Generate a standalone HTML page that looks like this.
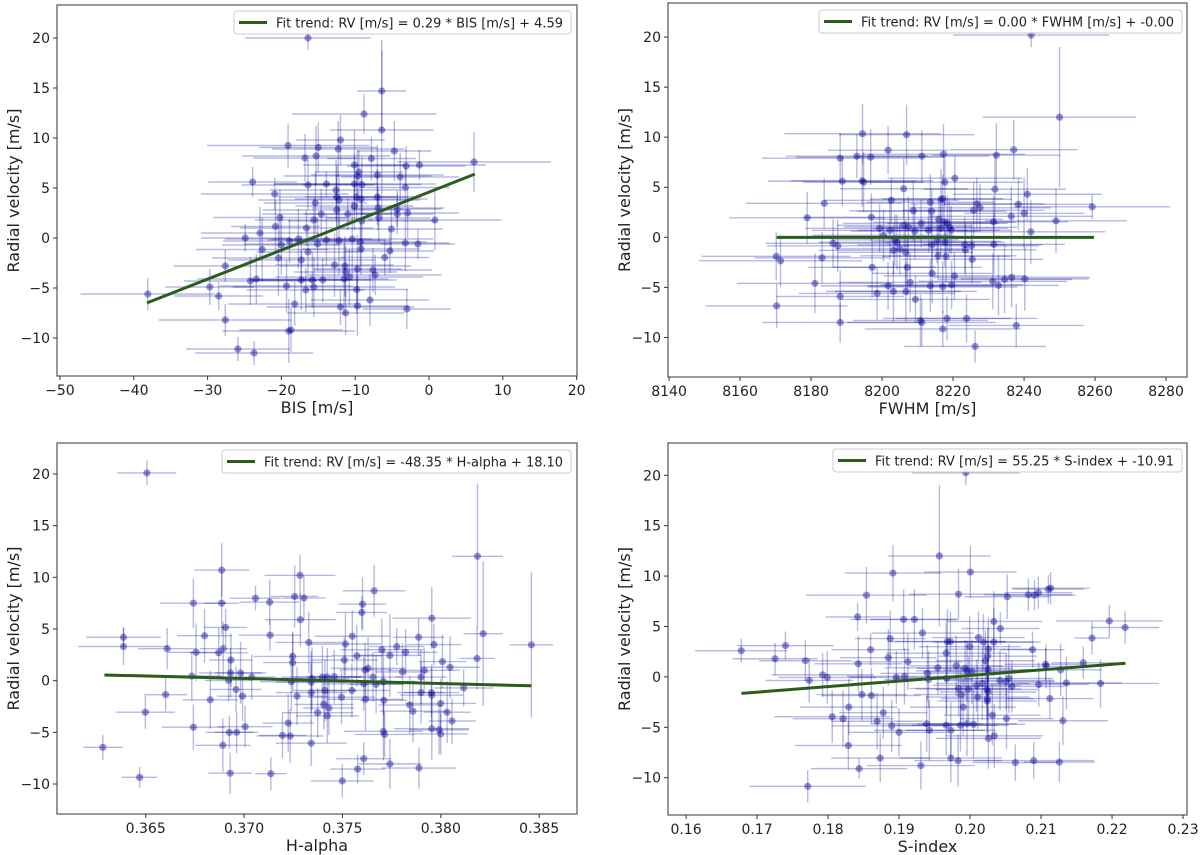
<!DOCTYPE html>
<html><head><meta charset="utf-8">
<style>
html,body{margin:0;padding:0;background:#fff;}
svg{display:block;font-family:"DejaVu Sans","Liberation Sans",sans-serif;}
</style></head>
<body>
<svg id="fig" width="1200" height="855" viewBox="0 0 1200 855" xmlns="http://www.w3.org/2000/svg"></svg>
<script>
// ---------- Panel 1: BIS ----------
const bisX = [-16.4,-6.4,-8.8,-6.4,-12.0,-19.1,-15.0,-12.3,-4.7,-16.8,-15.3,-7.8,6.1,-3.1,-1.3,-10.1,-9.5,-7.0,-3.9,-9.7,-23.9,-16.4,-13.9,-10.1,-9.1,-3.2,-12.6,-20.9,-9.8,-12.5,-7.0,-9.2,-12.2,-15.4,-10.1,-4.3,-6.9,-12.5,-2.9,-14.6,-11.0,-4.3,-20.2,-6.8,0.8,-15.6,-9.1,-20.8,-16.6,-5.1,-22.9,-24.9,-17.7,-18.9,-12.2,-13.9,-10.4,-9.3,-3.2,-1.5,-20.0,-15.1,-22.6,-16.4,-5.3,-9.2,-20.4,-6.0,-17.3,-27.6,-12.8,-11.4,-9.7,-7.6,-11.3,-7.3,-10.8,-11.5,-23.4,-24.2,-17.3,-14.4,-15.8,-19.3,-29.7,-15.6,-9.8,-16.7,-38.1,-28.5,-8.0,-18.2,-9.7,-12.0,-3.0,-11.3,-27.6,-18.7,-19.0,-25.9,-23.7];
const bisRV = [20.0,14.7,12.4,10.8,9.8,9.25,9.05,8.9,8.7,8.0,8.2,7.95,7.6,7.2,7.3,7.3,6.6,6.3,6.1,6.2,5.6,5.3,5.4,5.4,5.35,5.05,4.8,4.4,4.1,4.1,4.1,3.9,3.8,3.5,3.2,2.9,3.0,2.8,2.5,2.4,2.4,2.4,2.05,2.0,1.8,1.8,1.7,1.15,1.0,0.9,0.5,0.0,-0.1,-0.3,-0.25,-0.2,-0.1,-0.4,-0.5,-0.6,-0.7,-0.6,-1.15,-1.4,-1.3,-1.1,-2.0,-1.95,-2.2,-2.8,-2.7,-2.8,-3.1,-3.2,-3.4,-3.7,-3.9,-4.1,-4.1,-4.3,-4.2,-4.2,-4.2,-4.8,-4.9,-4.9,-5.15,-5.2,-5.6,-5.8,-6.2,-6.6,-6.8,-6.9,-7.1,-7.5,-8.2,-9.2,-9.3,-11.1,-11.5];
const bisXerr = [8.5,3.3,9.8,7,6,11,8,9,5,7,10,6,10.4,8,9,7,6,9,8,10,6,9,7,11,8,6,9,10,7,8,6,9,11,7,8,6,9,10,7,8,6,5,9,7,9,8,10,6,9,7,8,6,10,9,7,8,11,9,6,5,8,10,9,7,6,8,9,6,10,7,8,9,6,8,7,9,10,6,8,9,7,10,8,9,6,11,7,8,9.1,6,8,9,7,10,6,8,9,7,9,7,8];
const bisYerr = [1.2,4,2,9,2.5,2.2,2.5,2.8,3,2.4,3,2.2,3,2,1.5,3.5,2.2,3,2.4,2.6,1.5,2.5,1.3,3,2.8,2,3,1.6,2.5,3.2,2.8,2.4,2.6,3,2.4,1.8,2.2,3.5,2.5,2.5,1.6,2,2.8,2.4,3,2.2,3.2,2.6,1.8,2.4,2.6,1.4,3,2.2,3.4,2.6,3.8,2.4,2.8,1.5,3,2.6,3.2,2.4,2.2,2.6,3.8,1.8,2.4,1.6,3.2,3,3.4,2.2,2.6,2,2.8,3.6,2.5,2.4,3,2.2,2.8,2.6,1.8,3,2.4,2.2,1.6,1.4,2.6,2.2,3,1.8,2,2.2,1.6,2.2,3.2,1.2,1.2];

// ---------- Panel 2: FWHM ----------
const fwhmX = [8242.0,8250.0,8194.5,8206.9,8201.7,8237.1,8188.2,8192.9,8196.8,8211.2,8217.3,8232.2,8188.8,8194.4,8194.8,8217.7,8220.5,8206.1,8231.8,8240.9,8183.7,8202.6,8213.6,8216.6,8217.1,8238.4,8259.2,8226.7,8227.6,8208.8,8214.0,8225.8,8240.0,8178.9,8197.0,8216.0,8236.4,8249.0,8231.4,8206.2,8207.4,8211.0,8217.5,8218.4,8219.0,8199.3,8202.2,8209.2,8213.1,8216.5,8219.5,8241.9,8200.4,8203.6,8204.2,8186.2,8187.5,8214.0,8215.5,8217.7,8223.3,8225.2,8231.5,8205.0,8203.2,8206.6,8223.5,8215.8,8218.0,8170.2,8171.4,8183.1,8225.4,8197.2,8207.1,8214.1,8220.4,8236.5,8234.5,8240.2,8231.2,8181.1,8207.9,8201.7,8213.6,8217.1,8219.6,8232.8,8198.6,8203.2,8206.7,8188.2,8209.4,8170.3,8188.2,8210.8,8211.2,8218.3,8223.8,8237.8,8217.1,8226.2];
const fwhmRV = [20.2,12.0,10.35,10.25,8.7,8.75,7.9,8.1,8.0,8.1,8.3,8.2,5.6,5.65,5.5,5.5,5.9,4.85,4.8,4.3,3.4,3.7,3.5,3.8,3.85,3.3,3.05,3.35,2.95,2.65,2.6,2.7,2.4,1.95,2.0,1.8,2.1,1.65,1.55,1.2,1.05,1.4,1.5,1.4,1.0,0.9,0.7,0.6,0.7,0.9,0.7,0.55,0.2,-0.25,-0.5,-0.6,-0.85,-0.75,-0.4,-0.5,-0.75,-0.85,-0.7,-1.15,-1.3,-1.5,-1.25,-1.85,-1.9,-1.9,-2.35,-2.05,-2.2,-3.0,-3.0,-3.6,-3.85,-4.0,-4.2,-4.15,-4.4,-4.6,-4.5,-4.85,-4.85,-4.95,-4.75,-4.8,-5.6,-5.4,-5.4,-5.9,-6.2,-6.85,-8.5,-8.3,-8.5,-8.1,-8.1,-8.8,-9.15,-10.9];
const fwhmXerr = [22,21.6,22,19,17,18,22,20,21,19,23,18,21,20,17,22,19,18,20,21,22,19,18,20,17,21,22,19,20,18,21,20,17,22,19,18,23,20,21,19,18,22,20,17,19,21,22,18,20,19,17,21,20,18,22,19,20,21,18,17,22,19,20,18,21,19,20,22,18,21,23,19,20,18,21,17,20,22,19,18,21,22,20,19,18,21,20,17,22,19,20,18,21,20,22,19,21,18,20,19,22,20];
const fwhmYerr = [1.2,7,3,3,2.4,3,2.5,2.2,2.8,2.6,3,3.2,2.5,2.6,3,2.4,2.2,3,3.4,2.6,2.5,2.2,2.8,3,2.4,2.6,1.2,2.6,2.4,3,2.2,2.8,3.6,2.6,2.4,2,3,3.2,2.6,2.6,3,2.4,2.2,2.8,2.6,2.4,3,2.8,2.2,2.6,2.4,3.2,2.6,2.6,2.8,2.4,2.6,3,2.2,2.4,2.8,2.2,3,2.6,2.4,3.2,2.6,2.2,2.6,2.4,2.6,2.6,2.4,3,2.8,3,2.4,3,3.4,3.2,2.8,3,3,2.4,2.6,2.6,2.4,3,2.6,3,3,2.6,2.4,2.2,2,2.6,2.4,2.2,2.4,2.2,1.8,1.6];

// ---------- Panel 3: H-alpha ----------
const haX = [0.36506,0.38186,0.36886,0.37284,0.37661,0.37257,0.37304,0.37058,0.3713,0.36742,0.36886,0.37602,0.37598,0.37954,0.37286,0.36906,0.38215,0.36799,0.37132,0.3755,0.37887,0.36387,0.37329,0.37965,0.3846,0.36387,0.36609,0.36894,0.37776,0.377,0.37515,0.37821,0.36756,0.36871,0.37247,0.37573,0.37741,0.38184,0.36933,0.37509,0.37247,0.38008,0.3763,0.37615,0.38047,0.37915,0.37805,0.36931,0.36982,0.36734,0.37039,0.37398,0.37423,0.37458,0.37345,0.37655,0.37899,0.36921,0.3724,0.37341,0.37608,0.37671,0.37708,0.38116,0.36959,0.37411,0.37548,0.37952,0.37899,0.36601,0.37341,0.37269,0.36992,0.37954,0.37495,0.36828,0.37617,0.3771,0.37405,0.37842,0.37999,0.37431,0.37858,0.36498,0.38032,0.37374,0.37423,0.38057,0.36742,0.37005,0.37224,0.37954,0.37991,0.37999,0.36925,0.36962,0.37708,0.37714,0.37195,0.37234,0.36892,0.37341,0.36282,0.37608,0.37741,0.37577,0.37889,0.36929,0.37136,0.36469,0.37499];
const haRV = [20.1,12.04,10.7,10.2,8.7,8.15,8.0,7.98,7.6,7.5,7.5,7.4,6.6,6.05,5.9,5.15,4.55,4.35,4.4,4.3,4.2,4.2,3.7,3.5,3.47,3.3,3.1,3.1,3.3,3.0,3.55,2.75,2.75,2.7,2.35,2.4,2.45,2.15,2.0,2.0,1.75,1.85,1.2,1.05,1.3,1.0,0.85,0.75,0.75,0.45,0.35,0.35,0.35,0.4,0.2,0.35,0.35,0.03,-0.1,-0.15,-0.3,-0.35,-0.1,-0.7,-0.85,-0.95,-0.95,-1.15,-1.15,-1.35,-1.15,-1.5,-1.5,-1.4,-1.6,-1.85,-1.8,-1.9,-2.3,-2.35,-2.2,-2.65,-2.95,-3.05,-3.05,-3.1,-3.4,-3.9,-4.5,-4.45,-4.1,-4.65,-4.75,-5.15,-5.0,-5.0,-4.9,-5.2,-5.3,-5.35,-6.25,-6.05,-6.45,-7.55,-8.05,-8.55,-8.45,-8.95,-9.0,-9.35,-9.7];
const haXerr = [0.0015,0.0013,0.0014,0.0018,0.0016,0.0012,0.0011,0.0013,0.0015,0.0017,0.0009,0.0012,0.0013,0.002,0.0018,0.0011,0.001,0.0014,0.0016,0.0019,0.0013,0.0019,0.0017,0.0014,0.0011,0.0023,0.0015,0.0012,0.0014,0.0021,0.0018,0.0016,0.0014,0.0015,0.002,0.0013,0.0016,0.0009,0.0011,0.0017,0.0015,0.0012,0.0019,0.0013,0.0015,0.0018,0.0014,0.0016,0.0013,0.0016,0.0012,0.0021,0.0017,0.0014,0.0019,0.0015,0.0013,0.0012,0.0016,0.0018,0.002,0.0014,0.0017,0.0015,0.0013,0.0016,0.0019,0.0014,0.0012,0.0011,0.0018,0.0015,0.0013,0.0016,0.0017,0.0014,0.0019,0.0012,0.0015,0.0016,0.0018,0.0013,0.0017,0.0015,0.0012,0.0018,0.0016,0.0012,0.0016,0.0014,0.0013,0.0019,0.0015,0.0014,0.0012,0.0011,0.002,0.0015,0.0012,0.0017,0.0014,0.0018,0.001,0.0014,0.0016,0.0014,0.0019,0.0011,0.0008,0.0009,0.0016];
const haYerr = [1.2,7,2.6,2,2.5,3,2.2,1.2,2.2,2.4,3,2.6,1.6,3,2.6,1.8,7,2.6,1.5,2.5,1.8,1,3,2,7,1.8,2,2.6,1.8,3,3,2.2,2.8,2.4,2.4,3,4,3,2.6,2.2,2.8,2.6,3,2.6,3,2.2,2.8,2.4,3,2.4,2.2,3,2.8,2.6,3,2.4,2.6,2,2.8,3,2.6,2.8,3.2,1.8,2.2,3,2.6,2.4,3,1.6,2.8,2.8,2.4,3,2.6,2.8,3,2.6,2.4,2.8,2.4,2.6,3,1.6,3,2.4,2.6,2.2,2.2,2,2.8,3,2.4,2,1.6,2,2.8,2.2,2.2,2.6,2.6,2.2,1.2,1.6,2.4,1.4,2,2,1.6,1,1.6];

// ---------- Panel 4: S-index ----------
const sX = [0.19941,0.19568,0.20005,0.18914,0.21135,0.21103,0.20962,0.20822,0.20908,0.19838,0.18541,0.20524,0.18416,0.19065,0.19216,0.21962,0.20335,0.22184,0.20427,0.1933,0.18876,0.21719,0.20119,0.19681,0.19724,0.20335,0.20189,0.174,0.16778,0.186,0.19995,0.20881,0.20259,0.19665,0.20249,0.17254,0.17681,0.18849,0.19124,0.20216,0.18427,0.21595,0.21065,0.2107,0.19805,0.19546,0.1993,0.19957,0.20027,0.20254,0.21276,0.17924,0.194,0.19076,0.18962,0.17989,0.1967,0.19416,0.17735,0.20422,0.20508,0.20546,0.20589,0.20968,0.21357,0.21838,0.20173,0.19838,0.19978,0.20092,0.20238,0.20254,0.1987,0.18476,0.18611,0.20108,0.20243,0.21124,0.20243,0.18292,0.19903,0.18778,0.20314,0.18059,0.18211,0.20514,0.21308,0.18692,0.19389,0.19665,0.19865,0.19957,0.20049,0.18897,0.19,0.19427,0.1973,0.20341,0.20259,0.18286,0.18735,0.1973,0.19832,0.20638,0.20897,0.21259,0.19308,0.18438,0.17714];
const sRV = [20.25,12.0,10.4,10.3,8.8,8.7,8.35,8.15,8.1,8.2,8.1,7.95,5.95,5.7,5.7,5.55,5.5,4.9,4.8,4.35,3.8,3.85,3.9,3.5,3.5,3.45,3.45,3.1,2.6,2.7,3.0,2.7,2.75,2.35,2.05,1.8,1.6,1.9,1.5,1.6,1.3,1.4,1.25,1.05,1.1,0.9,0.85,0.6,0.5,0.7,0.7,0.2,0.35,0.05,-0.05,-0.05,-0.15,-0.25,-0.35,-0.35,-0.45,-0.15,-0.95,-0.75,-0.6,-0.65,-0.65,-1.15,-1.2,-0.85,-1.25,-1.5,-1.75,-1.75,-1.85,-2.0,-2.15,-2.15,-2.4,-3.0,-3.0,-3.55,-3.8,-3.95,-4.15,-4.15,-4.35,-4.4,-4.65,-4.8,-4.8,-4.65,-4.7,-4.85,-5.5,-5.3,-5.3,-5.85,-6.1,-6.8,-8.05,-8.05,-8.3,-8.5,-8.3,-8.45,-8.8,-9.1,-10.85];
const sXerr = [0.0076,0.0072,0.0065,0.0068,0.0055,0.005,0.0048,0.0062,0.0058,0.007,0.0085,0.006,0.0045,0.0075,0.0062,0.0075,0.0068,0.0048,0.0055,0.0072,0.005,0.0025,0.0065,0.0082,0.0078,0.0066,0.0071,0.0068,0.0065,0.0055,0.0072,0.0045,0.0062,0.0085,0.007,0.006,0.0065,0.0068,0.0078,0.007,0.0062,0.0045,0.0058,0.0082,0.0066,0.0075,0.0068,0.0072,0.0069,0.0063,0.0058,0.0072,0.0066,0.0081,0.0067,0.0069,0.0075,0.0062,0.0062,0.0077,0.0068,0.0063,0.0074,0.0071,0.0078,0.0082,0.0066,0.0069,0.0074,0.0062,0.0072,0.0068,0.0066,0.0064,0.007,0.0073,0.0065,0.0061,0.007,0.0069,0.0075,0.0062,0.0068,0.0082,0.0071,0.0066,0.0063,0.0065,0.0079,0.0072,0.0068,0.007,0.0073,0.0085,0.0071,0.0078,0.0064,0.0069,0.0074,0.0075,0.0069,0.0072,0.0062,0.0061,0.0085,0.005,0.0076,0.0068,0.0082];
const sYerr = [1.2,7,2.6,2.8,1.6,1.4,1.6,1.6,1.5,2.5,2.8,2.2,1.4,3,3,1.6,3,1.6,1.6,2.5,2.8,1.6,2.6,3.2,3,3.4,2.8,1.4,1.2,1.6,3,1.8,3.2,3,2.8,1.6,2,2.8,2.8,3,2.8,1.6,1.6,2.2,3,2.6,2.8,3,3.2,2.6,2.6,2.2,2.8,2.8,2.6,2.6,3.6,2.8,2.2,3,2.8,3.4,2.6,2.2,2.6,2.4,3.6,2.8,3.2,2.6,3,2.4,2.8,2.6,2.8,3.2,3.4,2,3.6,2.8,2.8,2.6,3,2.6,2.8,3,2.4,2.8,2.8,3,2.6,3.2,3.4,2.6,2.4,3,2.8,3.2,3,2.4,2.4,2.4,2.6,1.8,1.8,2,2.4,1,1.6];

// ---------- ticks & fits ----------
const bisTicks = [-50,-40,-30,-20,-10,0,10,20];
const fwhmTicks = [8140,8160,8180,8200,8220,8240,8260,8280];
const haTicks = [0.365,0.370,0.375,0.380,0.385];
const sTicks = [0.16,0.17,0.18,0.19,0.20,0.21,0.22,0.23];
const rvTicks = [-10,-5,0,5,10,15,20];
const bisFit = [0.29, 4.59];
const fwhmFit = [0.00, -0.00];
const haFit = [-48.35, 18.10];
const sFit = [55.25, -10.91];

const NS = "http://www.w3.org/2000/svg";
const fig = document.getElementById('fig');
function mk(tag, attrs, parent){
  const e = document.createElementNS(NS, tag);
  for (const k in attrs) e.setAttribute(k, attrs[k]);
  (parent||fig).appendChild(e);
  return e;
}
function fmt(v, dec){
  const s = v.toFixed(dec);
  return (v < 0 ? '\u2212' + s.slice(1) : s);
}

function panel(p){
  const g = mk('g', {});
  
  
  const L=p.box[0], T=p.box[1], R=p.box[2], B=p.box[3];
  const sx = v => L + (v - p.xd[0]) / (p.xd[1] - p.xd[0]) * (R - L);
  const sy = v => B - (v - p.yd[0]) / (p.yd[1] - p.yd[0]) * (B - T);
  const clip = mk('clipPath', {id: p.name + '-clip'}, g);
  mk('rect', {x:L, y:T, width:R-L, height:B-T}, clip);
  const dg = mk('g', {'clip-path': 'url(#' + p.name + '-clip)'}, g);
  
  
  for (let i = 0; i < p.x.length; i++){
    const xv = p.x[i], yv = p.y[i];
    const xe = p.xe[i % p.xe.length], ye = p.ye[i % p.ye.length];
    const eb = mk('g', {stroke:'rgba(0,0,150,0.28)', 'stroke-width':1.4}, dg);
    
    
    mk('line', {x1:sx(xv-xe), x2:sx(xv+xe), y1:sy(yv), y2:sy(yv)}, eb);
    mk('line', {x1:sx(xv), x2:sx(xv), y1:sy(yv-ye), y2:sy(yv+ye)}, eb);
    const c = mk('circle', {cx:sx(xv), cy:sy(yv), r:3.6, fill:'rgba(0,0,150,0.42)'}, dg);
    
    
  }
  const fl = mk('line', {x1:sx(p.fitRange[0]), y1:sy(p.fit[0]*p.fitRange[0]+p.fit[1]), x2:sx(p.fitRange[1]), y2:sy(p.fit[0]*p.fitRange[1]+p.fit[1]), stroke:'#2a5d1a', 'stroke-width':3}, g);
  
  
  const fr = mk('rect', {x:L, y:T, width:R-L, height:B-T, fill:'none', stroke:'#555', 'stroke-width':1.2}, g);
  
  
  for (const t of p.xt){
    const X = sx(t);
    mk('line', {x1:X, x2:X, y1:B, y2:B+4, stroke:'#333'}, g);
    const tx = mk('text', {x:X, y:B+19, 'font-size':14, 'text-anchor':'middle', fill:'#222'}, g);
    tx.textContent = fmt(t, p.xdec);
    
    
  }
  for (const t of rvTicks){
    const Y = sy(t);
    mk('line', {x1:L-4, x2:L, y1:Y, y2:Y, stroke:'#333'}, g);
    const ty = mk('text', {x:L-7, y:Y+5, 'font-size':14, 'text-anchor':'end', fill:'#222'}, g);
    ty.textContent = fmt(t, 0);
    
    
  }
  const xl = mk('text', {x:(L+R)/2, y:B+37, 'font-size':16, 'text-anchor':'middle', fill:'#222'}, g);
  xl.textContent = p.xlabel;
  
  
  const yc = (T+B)/2, yx = L - 38;
  const yl = mk('text', {x:yx, y:yc, 'font-size':16, 'text-anchor':'middle', fill:'#222', transform:'rotate(-90 '+yx+' '+yc+')'}, g);
  yl.textContent = 'Radial velocity [m/s]';
  
  
  const lg = mk('g', {}, g);
  
  
  const lb = p.leg;
  mk('rect', {x:lb[0], y:lb[1], width:lb[2]-lb[0], height:23, rx:3, fill:'rgba(255,255,255,0.85)', stroke:'#ccc'}, lg);
  mk('line', {x1:lb[0]+5, x2:lb[0]+33, y1:lb[1]+11.5, y2:lb[1]+11.5, stroke:'#2a5d1a', 'stroke-width':3}, lg);
  const lt = mk('text', {x:lb[0]+42, y:lb[1]+16.5, 'font-size':13, fill:'#222', textLength:p.legW, lengthAdjust:'spacingAndGlyphs'}, lg);
  lt.textContent = p.legText;
  
  
}

panel({name:'bis-panel', box:[57,5,577,376], xd:[-50.4,20.05], yd:[-13.8,23.3], x:bisX, y:bisRV, xe:bisXerr, ye:bisYerr,
  xt:bisTicks, xdec:0, xlabel:'BIS [m/s]', fit:bisFit, fitRange:[-38.2,6.2], leg:[234,11,571], legW:287,
  legText:'Fit trend: RV [m/s] = 0.29 * BIS [m/s] + 4.59'});
panel({name:'fwhm-panel', box:[668,3,1187,377], xd:[8139.7,8285.9], yd:[-13.95,23.4], x:fwhmX, y:fwhmRV, xe:fwhmXerr, ye:fwhmYerr,
  xt:fwhmTicks, xdec:0, xlabel:'FWHM [m/s]', fit:fwhmFit, fitRange:[8170.3,8259.7], leg:[819,10,1182], legW:313,
  legText:'Fit trend: RV [m/s] = 0.00 * FWHM [m/s] + -0.00'});
panel({name:'halpha-panel', box:[57,443,577,814], xd:[0.36049,0.38692], yd:[-12.9,23.0], x:haX, y:haRV, xe:haXerr, ye:haYerr,
  xt:haTicks, xdec:3, xlabel:'H-alpha', fit:haFit, fitRange:[0.3629,0.3846], leg:[222,450,571], legW:299,
  legText:'Fit trend: RV [m/s] = -48.35 * H-alpha + 18.10'});
panel({name:'sindex-panel', box:[668,443,1187,815], xd:[0.15746,0.23056], yd:[-13.7,23.2], x:sX, y:sRV, xe:sXerr, ye:sYerr,
  xt:sTicks, xdec:2, xlabel:'S-index', fit:sFit, fitRange:[0.1678,0.2219], leg:[833,449,1182], legW:299,
  legText:'Fit trend: RV [m/s] = 55.25 * S-index + -10.91'});
</script>
</body></html>
